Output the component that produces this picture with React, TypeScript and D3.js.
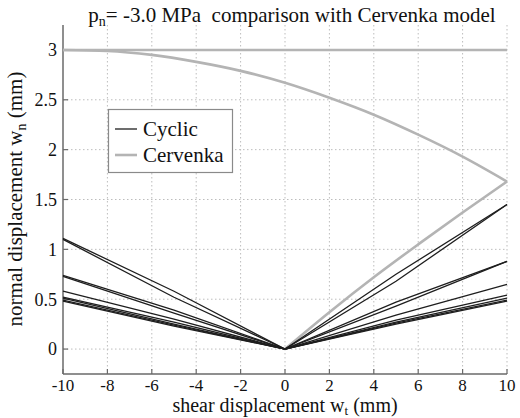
import React, { useEffect, useRef } from 'react';
import * as d3 from 'd3';

const cyclicX = [-10, -5, 0, 5, 10];
// cyclic test curves (normal displacement at the x positions above)
const cyclic1 = [1.11, 0.58, 0, 0.75, 1.45];
const cyclic2 = [1.10, 0.52, 0, 0.68, 1.45];
const cyclic3 = [0.74, 0.39, 0, 0.47, 0.88];
const cyclic4 = [0.73, 0.36, 0, 0.43, 0.88];
const cyclic5 = [0.58, 0.30, 0, 0.34, 0.65];
const cyclic6 = [0.52, 0.27, 0, 0.29, 0.54];
const cyclic7 = [0.51, 0.25, 0, 0.27, 0.51];
const cyclic8 = [0.49, 0.24, 0, 0.26, 0.49];
const cyclic9 = [0.48, 0.23, 0, 0.25, 0.48];

// Cervenka model
const cervenkaTopX = [-10, 10];
const cervenkaTopY = [3, 3];
const cervenkaDropX = [-10, -8, -6, -4, -2, 0, 2, 4, 6, 8, 10];
const cervenkaDropY = [3.0, 2.99, 2.95, 2.88, 2.79, 2.67, 2.52, 2.35, 2.15, 1.93, 1.68];
const cervenkaRiseX = [0, 2, 4, 6, 8, 10];
const cervenkaRiseY = [0, 0.37, 0.72, 1.05, 1.37, 1.68];

const xTicks = [-10, -8, -6, -4, -2, 0, 2, 4, 6, 8, 10];
const yTicks = [0, 0.5, 1, 1.5, 2, 2.5, 3];
const yTickLabels = ['0', '0.5', '1', '1.5', '2', '2.5', '3'];

const legendNames = ['Cyclic', 'Cervenka'];

const W = 520, H = 418;
const font = 'Liberation Serif, Times New Roman, serif';

const App = () => {
  const ref = useRef(null);

  useEffect(() => {
    d3.select(ref.current).selectAll('*').remove();
    draw(ref.current);
  }, []);

  return (
    <div style={{ position: 'fixed', left: 0, top: 0 }}>
      <svg ref={ref} width={W} height={H} style={{ display: 'block', background: '#fff' }} />
    </div>
  );
};

const draw = (node) => {
  const svg = d3.select(node).attr('font-family', font);

  const x = d3.scaleLinear().domain([-10, 10]).range([63, 507]);
  const y = d3.scaleLinear().domain([-0.25, 3.25]).range([374, 25]);

  // grid
  svg.append('g')
    .selectAll('line')
    .data(xTicks.filter(d => d !== -10))
    .enter().append('line')
    .attr('x1', d => x(d)).attr('x2', d => x(d))
    .attr('y1', y(3.25)).attr('y2', y(-0.25))
    .attr('stroke', '#bdbdbd').attr('stroke-width', 1)
    .attr('stroke-dasharray', '1.5,2.5');

  svg.append('g')
    .selectAll('line')
    .data(yTicks)
    .enter().append('line')
    .attr('x1', x(-10)).attr('x2', x(10))
    .attr('y1', d => y(d)).attr('y2', d => y(d))
    .attr('stroke', '#bdbdbd').attr('stroke-width', 1)
    .attr('stroke-dasharray', '1.5,2.5');

  // axes
  const axisColor = '#6a6a6a';
  svg.append('line')
    .attr('x1', x(-10)).attr('x2', x(-10))
    .attr('y1', y(3.25)).attr('y2', y(-0.25))
    .attr('stroke', axisColor).attr('stroke-width', 1.5);
  svg.append('line')
    .attr('x1', x(-10)).attr('x2', x(10))
    .attr('y1', y(-0.25)).attr('y2', y(-0.25))
    .attr('stroke', axisColor).attr('stroke-width', 1.5);

  // tick marks (inside) and labels
  svg.append('g').selectAll('line')
    .data(xTicks)
    .enter().append('line')
    .attr('x1', d => x(d)).attr('x2', d => x(d))
    .attr('y1', y(-0.25)).attr('y2', y(-0.25) - 5)
    .attr('stroke', axisColor).attr('stroke-width', 1.2);
  svg.append('g').selectAll('line')
    .data(yTicks)
    .enter().append('line')
    .attr('x1', x(-10)).attr('x2', x(-10) + 5)
    .attr('y1', d => y(d)).attr('y2', d => y(d))
    .attr('stroke', axisColor).attr('stroke-width', 1.2);

  svg.append('g').selectAll('text')
    .data(xTicks)
    .enter().append('text')
    .attr('x', d => x(d))
    .attr('y', 391)
    .attr('text-anchor', 'middle')
    .attr('font-size', 17).attr('fill', '#111')
    .text(d => String(d));

  svg.append('g').selectAll('text')
    .data(yTicks)
    .enter().append('text')
    .attr('x', 57)
    .attr('y', d => y(d))
    .attr('dy', '0.35em')
    .attr('text-anchor', 'end')
    .attr('font-size', 18).attr('fill', '#111')
    .text((d, i) => yTickLabels[i]);

  // lines
  const line = d3.line().x(d => x(d[0])).y(d => y(d[1]));
  const smooth = d3.line().x(d => x(d[0])).y(d => y(d[1])).curve(d3.curveMonotoneX);

  const grey = '#b4b4b4';
  const pairs = (xs, ys) => xs.map((v, i) => [v, ys[i]]);

  svg.append('path').datum(pairs(cervenkaTopX, cervenkaTopY))
    .attr('d', line).attr('fill', 'none').attr('stroke', grey).attr('stroke-width', 2.6);
  svg.append('path').datum(pairs(cervenkaDropX, cervenkaDropY))
    .attr('d', smooth).attr('fill', 'none').attr('stroke', grey).attr('stroke-width', 2.6);
  svg.append('path').datum(pairs(cervenkaRiseX, cervenkaRiseY))
    .attr('d', smooth).attr('fill', 'none').attr('stroke', grey).attr('stroke-width', 2.6);

  const cyclic = [cyclic1, cyclic2, cyclic3, cyclic4, cyclic5, cyclic6, cyclic7, cyclic8, cyclic9];
  svg.append('g').selectAll('path')
    .data(cyclic)
    .enter().append('path')
    .attr('d', d => line(pairs(cyclicX, d)))
    .attr('fill', 'none')
    .attr('stroke', '#1e1e1e')
    .attr('stroke-width', 1.3);

  // legend
  const lg = svg.append('g');
  lg.append('rect')
    .attr('x', 108.5).attr('y', 109.5).attr('width', 124).attr('height', 63)
    .attr('fill', '#fff').attr('stroke', '#8a8a8a').attr('stroke-width', 1.2);
  const legendColors = ['#1e1e1e', grey];
  const legendWidths = [1.3, 2.6];
  const rows = lg.selectAll('.legend')
    .data(legendNames)
    .enter().append('g')
    .attr('class', 'legend')
    .attr('transform', (d, i) => 'translate(0,' + (129 + i * 26) + ')');
  rows.append('line')
    .attr('x1', 115).attr('x2', 137).attr('y1', 0).attr('y2', 0)
    .attr('stroke', (d, i) => legendColors[i])
    .attr('stroke-width', (d, i) => legendWidths[i]);
  rows.append('text')
    .attr('x', 143).attr('y', 0).attr('dy', '0.35em')
    .attr('font-size', 21).attr('fill', '#111')
    .text(d => d);

  // title
  const title = svg.append('text')
    .attr('x', 292).attr('y', 22)
    .attr('text-anchor', 'middle')
    .attr('font-size', 21).attr('fill', '#111');
  title.append('tspan').text('p');
  title.append('tspan').attr('dy', 4).attr('font-size', 14).text('n');
  title.append('tspan').attr('dy', -4).text('= -3.0 MPa\u00a0 comparison with Cervenka model');

  // x label
  const xl = svg.append('text')
    .attr('x', 285).attr('y', 412)
    .attr('text-anchor', 'middle')
    .attr('font-size', 20).attr('fill', '#111');
  xl.append('tspan').text('shear displacement w');
  xl.append('tspan').attr('dy', 3).attr('font-size', 13).text('t');
  xl.append('tspan').attr('dy', -3).text(' (mm)');

  // y label
  const yl = svg.append('text')
    .attr('transform', 'translate(22,' + 199 + ') rotate(-90)')
    .attr('text-anchor', 'middle')
    .attr('font-size', 21).attr('fill', '#111');
  yl.append('tspan').text('normal displacement w');
  yl.append('tspan').attr('dy', 4).attr('font-size', 14).text('n');
  yl.append('tspan').attr('dy', -4).text(' (mm)');
};

export default App;
